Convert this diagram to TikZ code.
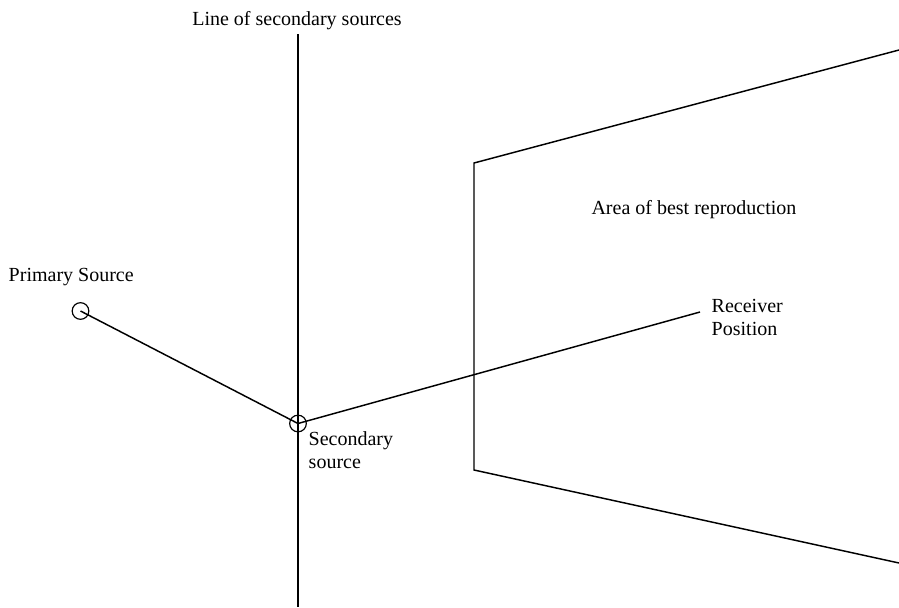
\documentclass[tikz,border=0pt]{standalone}
\usepackage{fontspec}
\setmainfont{Liberation Serif}
\usetikzlibrary{arrows}
\newcommand{\lblfont}{\fontsize{15}{17.25}\selectfont}

\begin{document}
\begin{tikzpicture}[x=0.75pt,y=-0.75pt,line width=1.1pt,
  src/.style={draw,circle,inner sep=0pt,minimum size=12.5pt,line width=0.9pt},
  lbl/.style={font=\lblfont,inner sep=0pt}]
\useasboundingbox (0,0) rectangle (899,607);

\node[lbl,anchor=base] (lineLbl) at (297,25) {Line of secondary sources};
\coordinate (lineTop) at (298,34);
\coordinate (lineBot) at (298,607);
\draw (lineTop) -- (lineBot);

\node[src] (prim) at (80.5,311) {};
\node[lbl,anchor=base west] (primLbl) at (8,281) {Primary Source};

\node[src] (sec) at (298,423.5) {};
\node[lbl,anchor=base west,align=left] (secLbl) at (308,468) {Secondary\\source};

\coordinate (recv) at (700,312);
\node[lbl,anchor=base west,align=left] (recvLbl) at (711,335) {Receiver\\Position};

\coordinate (areaTR) at (899,50);
\coordinate (areaTL) at (474,163);
\coordinate (areaBL) at (474,470);
\coordinate (areaBR) at (899,563);
\draw (areaTR) -- (areaTL) -- (areaBL) -- (areaBR);
\node[lbl,anchor=base] (areaLbl) at (694,214) {Area of best reproduction};

\draw (prim.center) -- (sec.center);
\draw (sec.center) -- (recv);

\end{tikzpicture}
\end{document}
